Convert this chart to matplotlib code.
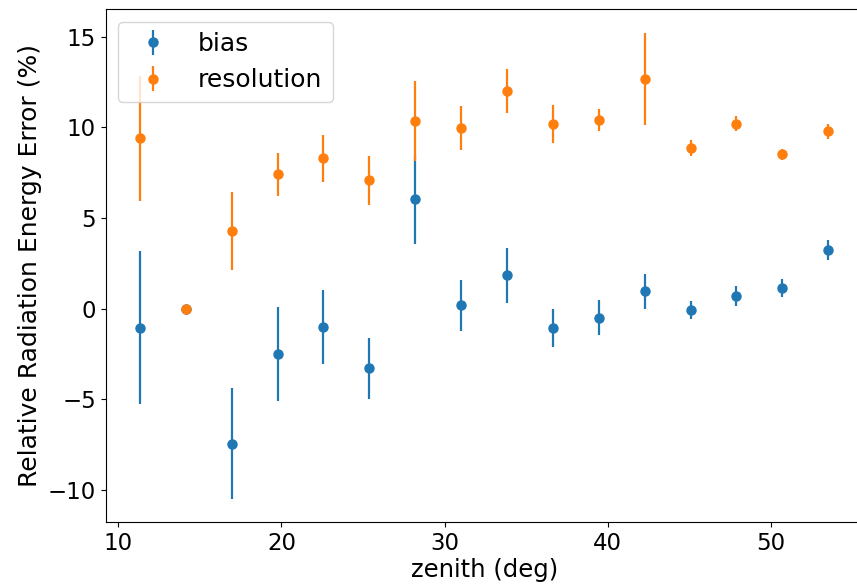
import numpy as np
import matplotlib
matplotlib.use("Agg")
import matplotlib.pyplot as plt

# zenith bin centres (deg)
zenith = [11.33, 14.15, 16.98, 19.80, 22.56, 25.38, 28.20, 31.02,
          33.85, 36.67, 39.49, 42.31, 45.13, 47.89, 50.71, 53.53]

# bias and its error (%)
bias = [-1.05, 0.0, -7.45, -2.5, -1.0, -3.3, 6.03, 0.18,
        1.83, -1.07, -0.5, 0.95, -0.1, 0.68, 1.12, 3.25]
bias_err = [4.2, 0.0, 3.05, 2.6, 2.05, 1.66, 2.45, 1.4,
            1.5, 1.05, 0.95, 0.95, 0.5, 0.55, 0.5, 0.55]

# resolution and its error (%)
resolution = [9.4, 0.0, 4.3, 7.4, 8.3, 7.08, 10.36, 9.97,
              12.0, 10.17, 10.4, 12.67, 8.87, 10.2, 8.5, 9.77]
resolution_err = [3.45, 0.0, 2.15, 1.17, 1.3, 1.36, 2.2, 1.22,
                  1.2, 1.05, 0.6, 2.55, 0.43, 0.4, 0.3, 0.4]

fig = plt.figure(figsize=(8.57, 5.86), dpi=100)
# the right edge of the axes runs just past the picture, as in the original
ax = fig.add_axes([0.1233, 0.1087, 0.8833, 0.8754])
ax.spines['right'].set_visible(False)

ax.errorbar(zenith, bias, yerr=bias_err, fmt='o', markersize=6.5,
            elinewidth=1.6, label='bias')
ax.errorbar(zenith, resolution, yerr=resolution_err, fmt='o', markersize=6.5,
            elinewidth=1.6, label='resolution')

ax.set_xlabel('zenith (deg)', fontsize=17.5, labelpad=2)
ax.set_ylabel('Relative Radiation Energy Error (%)', fontsize=18)
ax.tick_params(labelsize=16.5)
ax.set_xticks([10, 20, 30, 40, 50])
ax.legend(loc='upper left', fontsize=18)

fig.savefig('out.png', dpi=100)
